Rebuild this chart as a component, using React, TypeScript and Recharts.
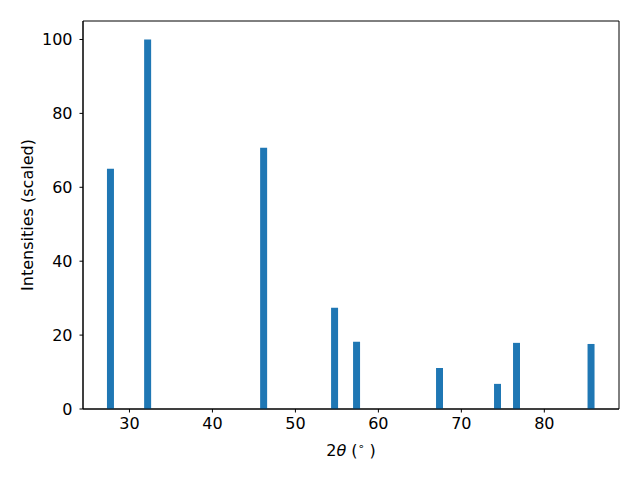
import React from "react";
import { ComposedChart, Bar, XAxis, YAxis, ReferenceArea } from "recharts";

const twoTheta = [27.71, 32.19, 46.17, 54.72, 57.37, 67.37, 74.36, 76.65, 85.63];
const intensities = [65.0, 100.0, 70.7, 27.4, 18.2, 11.1, 6.8, 17.9, 17.6];
const xTicks = [30, 40, 50, 60, 70, 80];
const yTicks = [0, 20, 40, 60, 80, 100];
const xDomain = [24.4, 89.0];
const yDomain = [0, 105];

const data = twoTheta.map((x, i) => ({ x, y: intensities[i] }));

const FONT = "'DejaVu Sans', sans-serif";
const tickStyle = { fill: "#000", fontSize: 16, fontFamily: FONT };

const XLabel = (props: any) => {
  const vb = props.viewBox || {};
  const cx = vb.x + vb.width / 2;
  return (
    <text x={cx} y={456} textAnchor="middle" fontFamily={FONT} fontSize={16} fill="#000">
      <tspan>2</tspan>
      <tspan fontStyle="italic">θ</tspan>
      <tspan> (</tspan>
      <tspan dy={-6} fontSize={11}>∘</tspan>
      <tspan dy={6}> )</tspan>
    </text>
  );
};

const YLabel = () => (
  <text
    x={0}
    y={0}
    transform="translate(27,215) rotate(-90)"
    textAnchor="middle"
    dominantBaseline="central"
    fontFamily={FONT}
    fontSize={16}
    fill="#000"
  >
    Intensities (scaled)
  </text>
);

export default function App() {
  return (
    <div style={{ position: "absolute", left: 0, top: 0, background: "#fff" }}>
      <ComposedChart
        width={640}
        height={480}
        data={data}
        margin={{ top: 21, right: 21, left: 0, bottom: 0 }}
      >
        <XAxis
          dataKey="x"
          type="number"
          domain={xDomain}
          ticks={xTicks}
          allowDataOverflow
          height={71}
          tickSize={3.5}
          tickMargin={5.5}
          tick={tickStyle}
          stroke="#000"
          tickLine={{ stroke: "#000" }}
          axisLine={{ stroke: "#000" }}
          label={<XLabel />}
        />
        <YAxis
          type="number"
          domain={yDomain}
          ticks={yTicks}
          allowDataOverflow
          width={83}
          tickSize={3.5}
          tickMargin={7}
          tick={tickStyle}
          stroke="#000"
          tickLine={{ stroke: "#000" }}
          axisLine={{ stroke: "#000" }}
          label={<YLabel />}
        />
        <Bar dataKey="y" fill="#1f77b4" barSize={7} isAnimationActive={false} />
        <ReferenceArea
          x1={xDomain[0]}
          x2={xDomain[1]}
          y1={yDomain[0]}
          y2={yDomain[1]}
          fill="none"
          fillOpacity={0}
          stroke="#000"
          strokeWidth={1}
          strokeOpacity={1}
          ifOverflow="visible"
        />
      </ComposedChart>
    </div>
  );
}
